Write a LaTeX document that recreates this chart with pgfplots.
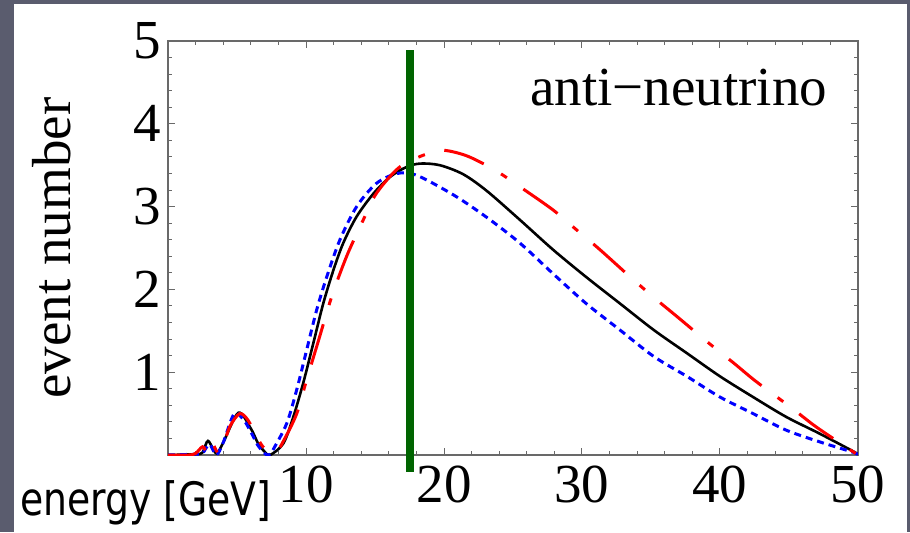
\documentclass[border=0pt]{standalone}
\usepackage{fontspec}
\setmainfont{Liberation Serif}
\newfontfamily\tahoma{DejaVu Sans}
\usepackage{graphicx}
\usepackage{pgfplots}
\pgfplotsset{compat=1.18}
\definecolor{slidebg}{RGB}{90,92,110}
\definecolor{dgreen}{RGB}{0,100,0}
\definecolor{framegray}{RGB}{105,105,105}

\pgfplotstableread{
x y
0 0
2 0.01
2.5 0.03
2.9 0.17
3.5 0.02
4 0.15
5.1 0.51
6 0.32
6.5 0.15
7 0.04
7.4 0
8.36 0.14
9.08 0.46
9.8 0.87
10.53 1.35
11.25 1.83
11.98 2.23
12.7 2.56
13.67 2.88
14.9 3.16
16.1 3.36
17.3 3.48
18.3 3.52
19.7 3.50
21.4 3.39
23.1 3.19
25.5 2.84
27.9 2.48
30.3 2.15
32.75 1.83
35.2 1.51
37.6 1.23
40.0 0.95
42.4 0.70
44.8 0.46
47.2 0.26
49.7 0.04
50 0
}\blackdata

\pgfplotstableread{
x y
0 0
2 0.01
2.5 0.02
3 0.13
3.5 0
4 0.15
4.8 0.5
5.5 0.42
6 0.28
6.5 0.12
7 0.02
7.3 0
7.6 0.06
8.6 0.38
9.33 0.79
10.05 1.27
10.77 1.75
11.5 2.15
12.46 2.6
13.67 3.0
15.1 3.28
16.6 3.40
18.0 3.38
20.7 3.14
23.1 2.87
25.5 2.56
27.9 2.19
30.3 1.83
32.75 1.51
35.2 1.19
37.6 0.95
40.0 0.70
42.4 0.50
44.8 0.30
47.2 0.16
49.7 0.03
50 0
}\bluedata

\pgfplotstableread{
x y
0 0
1.5 0
2 0.02
2.5 0.1
2.8 0.05
3.1 0.18
3.6 0.03
4 0.12
4.5 0.35
5.2 0.5
5.8 0.42
6.5 0.2
7 0.08
7.8 0.03
8.4 0.18
9.33 0.50
10.05 0.91
10.9 1.38
11.74 1.85
12.3 2.12
13.07 2.45
14.15 2.84
15.1 3.16
16.8 3.48
18.8 3.64
20.0 3.68
21.7 3.61
23.7 3.44
25.5 3.24
27.9 2.96
29.6 2.72
31.3 2.48
33.5 2.15
35.3 1.89
36.9 1.67
39.2 1.35
41.0 1.11
42.6 0.89
45.1 0.58
46.8 0.36
48.2 0.20
50 0
}\reddata

\begin{document}
\begin{tikzpicture}
\useasboundingbox (0pt,-266pt) rectangle (455pt,0pt);
\fill[slidebg] (0pt,-266pt) rectangle (455pt,0pt);
\fill[white] (7pt,-266pt) rectangle (453.5pt,-2pt);
\begin{axis}[
  at={(84pt,-227.5pt)}, anchor=south west, scale only axis,
  width=345pt, height=207pt,
  xmin=0, xmax=50, ymin=0, ymax=5,
  xtick={0,10,...,50}, xticklabels={,10,20,30,40,50},
  ytick={0,1,...,5}, yticklabels={,1,2,3,4,5},
  minor x tick num=4, minor y tick num=4,
  tick align=inside,
  major tick length=3.5pt, minor tick length=2pt,
  axis line style={framegray, line width=0.6pt},
  tick style={framegray, line width=0.5pt},
  tick label style={font=\fontsize{27.5}{30}\selectfont, black},
  /pgf/number format/assume math mode=true,
  xticklabel style={yshift=-2pt},
]
\addplot[black, line width=1.3pt, smooth, tension=0.5] table {\blackdata};
\addplot[blue, line width=1.5pt, smooth, tension=0.5, dash pattern=on 3.5pt off 2.5pt] table {\bluedata};
\addplot[red, line width=1.5pt, smooth, tension=0.5, dash pattern=on 21pt off 10pt on 3.5pt off 10pt] table {\reddata};
\end{axis}
\begin{axis}[
  at={(84pt,-227.5pt)}, anchor=south west, scale only axis,
  width=345pt, height=207pt,
  xmin=0, xmax=50, ymin=0, ymax=5,
  axis lines=none, clip=false,
]
\addplot[dgreen, line width=4pt] coordinates {(17.5,4.89) (17.5,-0.21)};
\end{axis}
\node[rotate=90, anchor=base, inner sep=0pt, font=\fontsize{27.5}{30}\selectfont] at (35pt,-124pt) {event number};
\node[anchor=base west, inner sep=0pt, font=\fontsize{27.5}{30}\selectfont] at (265pt,-52.5pt) {anti−neutrino};
\node[anchor=base west, inner sep=0pt, font=\tahoma\fontsize{23}{26}\selectfont] at (10pt,-257.5pt) {\scalebox{0.82}[1]{energy [GeV]}};
\end{tikzpicture}
\end{document}
